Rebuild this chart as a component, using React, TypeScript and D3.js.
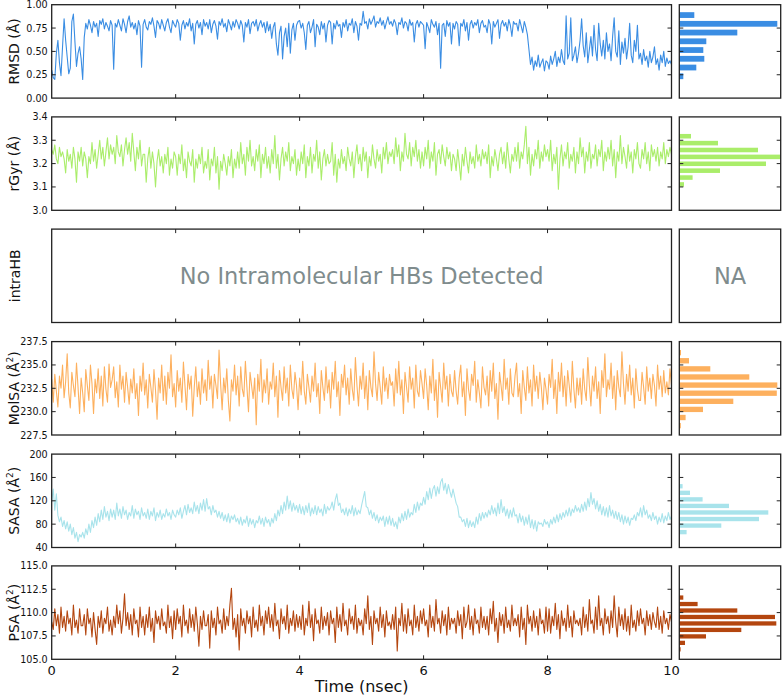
import React from 'react';
import * as d3 from 'd3';

// ---------- data (one row = 0.5 nsec, step 0.025 nsec) ----------
const timeTicks = [0, 2, 4, 6, 8, 10];

const rmsd = [
  0.30, 0.22, 0.20, 0.48, 0.62, 0.38, 0.24, 0.55, 0.85, 0.62, 0.44, 0.26, 0.32, 0.82, 0.90, 0.60, 0.34, 0.48, 0.55, 0.42,
  0.20, 0.65, 0.80, 0.74, 0.84, 0.78, 0.70, 0.82, 0.76, 0.80, 0.66, 0.83, 0.79, 0.85, 0.74, 0.81, 0.77, 0.72, 0.83, 0.78,
  0.31, 0.80, 0.76, 0.84, 0.78, 0.72, 0.85, 0.79, 0.70, 0.82, 0.88, 0.76, 0.81, 0.74, 0.80, 0.68, 0.83, 0.77, 0.33, 0.79,
  0.84, 0.76, 0.73, 0.82, 0.79, 0.86, 0.77, 0.65, 0.83, 0.80, 0.74, 0.84, 0.78, 0.72, 0.81, 0.85, 0.76, 0.70, 0.83, 0.79,
  0.76, 0.84, 0.80, 0.62, 0.78, 0.83, 0.74, 0.81, 0.77, 0.85, 0.72, 0.80, 0.58, 0.79, 0.83, 0.75, 0.81, 0.68, 0.84, 0.77,
  0.81, 0.74, 0.84, 0.70, 0.79, 0.83, 0.77, 0.63, 0.82, 0.78, 0.85, 0.76, 0.80, 0.71, 0.84, 0.79, 0.73, 0.82, 0.76, 0.84,
  0.80, 0.74, 0.83, 0.78, 0.60, 0.81, 0.76, 0.84, 0.69, 0.80, 0.82, 0.77, 0.84, 0.72, 0.79, 0.83, 0.76, 0.81, 0.70, 0.82,
  0.72, 0.79, 0.64, 0.76, 0.81, 0.58, 0.46, 0.70, 0.77, 0.42, 0.66, 0.75, 0.55, 0.80, 0.48, 0.73, 0.80, 0.62, 0.78, 0.82,
  0.83, 0.75, 0.80, 0.70, 0.52, 0.78, 0.82, 0.70, 0.76, 0.84, 0.55, 0.79, 0.76, 0.68, 0.82, 0.74, 0.80, 0.60, 0.78, 0.83,
  0.81, 0.58, 0.80, 0.74, 0.83, 0.77, 0.79, 0.65, 0.81, 0.76, 0.84, 0.72, 0.80, 0.78, 0.85, 0.70, 0.82, 0.77, 0.62, 0.80,
  0.78, 0.93, 0.80, 0.82, 0.74, 0.85, 0.79, 0.83, 0.88, 0.76, 0.82, 0.80, 0.86, 0.78, 0.83, 0.74, 0.81, 0.87, 0.79, 0.82,
  0.77, 0.84, 0.80, 0.68, 0.81, 0.79, 0.86, 0.75, 0.82, 0.80, 0.72, 0.84, 0.78, 0.81, 0.60, 0.79, 0.83, 0.76, 0.82, 0.80,
  0.78, 0.53, 0.81, 0.76, 0.70, 0.84, 0.79, 0.76, 0.82, 0.68, 0.80, 0.32, 0.78, 0.80, 0.66, 0.83, 0.77, 0.81, 0.58, 0.80,
  0.74, 0.82, 0.79, 0.56, 0.80, 0.77, 0.84, 0.72, 0.81, 0.62, 0.79, 0.83, 0.75, 0.81, 0.78, 0.84, 0.70, 0.80, 0.83, 0.76,
  0.78, 0.70, 0.84, 0.79, 0.58, 0.82, 0.76, 0.80, 0.84, 0.64, 0.79, 0.83, 0.77, 0.81, 0.72, 0.84, 0.78, 0.66, 0.82, 0.79,
  0.80, 0.72, 0.84, 0.77, 0.70, 0.82, 0.76, 0.68, 0.52, 0.36, 0.44, 0.30, 0.40, 0.34, 0.46, 0.33, 0.38, 0.42, 0.29, 0.40,
  0.38, 0.31, 0.45, 0.36, 0.42, 0.50, 0.34, 0.44, 0.38, 0.52, 0.40, 0.36, 0.88, 0.42, 0.48, 0.86, 0.40, 0.46, 0.55, 0.38,
  0.48, 0.62, 0.85, 0.56, 0.44, 0.70, 0.38, 0.52, 0.66, 0.45, 0.78, 0.52, 0.40, 0.80, 0.58, 0.45, 0.62, 0.42, 0.70, 0.50,
  0.58, 0.40, 0.66, 0.86, 0.50, 0.44, 0.72, 0.36, 0.60, 0.48, 0.64, 0.42, 0.55, 0.80, 0.46, 0.38, 0.62, 0.50, 0.78, 0.42,
  0.48, 0.36, 0.52, 0.40, 0.45, 0.33, 0.50, 0.38, 0.44, 0.55, 0.36, 0.42, 0.30, 0.46, 0.38, 0.50, 0.34, 0.43, 0.37, 0.40,
  0.36,
];

const rgyr = [
  3.26, 3.24, 3.28, 3.22, 3.20, 3.27, 3.23, 3.25, 3.22, 3.16, 3.26, 3.21, 3.24, 3.18, 3.27, 3.22, 3.12, 3.25, 3.21, 3.27,
  3.19, 3.25, 3.22, 3.14, 3.23, 3.20, 3.29, 3.21, 3.26, 3.18, 3.24, 3.30, 3.22, 3.27, 3.19, 3.25, 3.31, 3.22, 3.28, 3.24,
  3.27, 3.20, 3.32, 3.25, 3.23, 3.28, 3.19, 3.26, 3.31, 3.24, 3.29, 3.21, 3.33, 3.25, 3.17, 3.27, 3.22, 3.30, 3.19, 3.24,
  3.24, 3.12, 3.22, 3.27, 3.18, 3.25, 3.20, 3.10, 3.21, 3.26, 3.19, 3.23, 3.16, 3.24, 3.20, 3.27, 3.15, 3.22, 3.18, 3.25,
  3.23, 3.15, 3.24, 3.20, 3.28, 3.17, 3.22, 3.14, 3.25, 3.21, 3.19, 3.26, 3.12, 3.22, 3.18, 3.24, 3.20, 3.27, 3.16, 3.21,
  3.18, 3.26, 3.13, 3.22, 3.19, 3.27, 3.16, 3.23, 3.09, 3.21, 3.17, 3.24, 3.20, 3.15, 3.23, 3.19, 3.26, 3.14, 3.22, 3.18,
  3.25, 3.18, 3.29, 3.20, 3.24, 3.15, 3.27, 3.21, 3.30, 3.19, 3.23, 3.17, 3.26, 3.21, 3.28, 3.14, 3.24, 3.20, 3.27, 3.18,
  3.23, 3.16, 3.26, 3.20, 3.32, 3.18, 3.24, 3.13, 3.22, 3.27, 3.19, 3.25, 3.21, 3.29, 3.17, 3.23, 3.20, 3.26, 3.15, 3.22,
  3.17, 3.25, 3.20, 3.28, 3.14, 3.23, 3.19, 3.27, 3.16, 3.24, 3.21, 3.30, 3.18, 3.25, 3.13, 3.22, 3.26, 3.19, 3.24, 3.20,
  3.21, 3.29, 3.15, 3.24, 3.12, 3.22, 3.18, 3.26, 3.20, 3.23, 3.17, 3.27, 3.22, 3.19, 3.25, 3.14, 3.23, 3.28, 3.20, 3.24,
  3.17, 3.27, 3.21, 3.25, 3.14, 3.23, 3.19, 3.28, 3.22, 3.18, 3.26, 3.21, 3.24, 3.16, 3.27, 3.22, 3.29, 3.20, 3.25, 3.23,
  3.26, 3.20, 3.31, 3.23, 3.28, 3.17, 3.25, 3.21, 3.33, 3.24, 3.22, 3.29, 3.19, 3.27, 3.23, 3.30, 3.21, 3.26, 3.18, 3.25,
  3.19, 3.27, 3.22, 3.30, 3.18, 3.25, 3.21, 3.29, 3.15, 3.24, 3.26, 3.20, 3.28, 3.23, 3.19, 3.27, 3.22, 3.25, 3.17, 3.24,
  3.22, 3.17, 3.26, 3.20, 3.13, 3.24, 3.19, 3.27, 3.21, 3.16, 3.25, 3.20, 3.23, 3.18, 3.28, 3.21, 3.24, 3.19, 3.26, 3.22,
  3.25, 3.20, 3.28, 3.14, 3.23, 3.19, 3.26, 3.22, 3.17, 3.24, 3.27, 3.20, 3.25, 3.18, 3.29, 3.22, 3.16, 3.24, 3.21, 3.27,
  3.21, 3.29, 3.18, 3.25, 3.22, 3.28, 3.36, 3.20, 3.27, 3.15, 3.24, 3.19, 3.26, 3.22, 3.30, 3.18, 3.25, 3.21, 3.28, 3.23,
  3.26, 3.21, 3.30, 3.17, 3.24, 3.20, 3.27, 3.09, 3.22, 3.28, 3.19, 3.25, 3.22, 3.29, 3.18, 3.24, 3.21, 3.27, 3.16, 3.25,
  3.20, 3.31, 3.23, 3.27, 3.16, 3.25, 3.21, 3.29, 3.18, 3.24, 3.22, 3.28, 3.19, 3.26, 3.23, 3.30, 3.17, 3.25, 3.21, 3.27,
  3.22, 3.30, 3.19, 3.26, 3.14, 3.25, 3.21, 3.32, 3.20, 3.27, 3.23, 3.18, 3.28, 3.21, 3.25, 3.16, 3.26, 3.22, 3.29, 3.20,
  3.18, 3.26, 3.22, 3.29, 3.20, 3.25, 3.17, 3.28, 3.23, 3.26, 3.21, 3.27, 3.19, 3.25, 3.22, 3.29, 3.20, 3.26, 3.23, 3.27,
  3.24,
];

const molsa = [
  233.5, 231.0, 234.0, 232.2, 230.5, 233.8, 232.5, 235.0, 231.5, 233.2, 236.2, 232.0, 230.4, 234.2, 232.8, 231.6, 235.2, 232.6, 229.8, 233.6,
  232.0, 230.0, 234.5, 232.8, 231.2, 235.0, 233.0, 229.8, 233.5, 232.0, 234.6, 231.4, 233.8, 230.6, 234.8, 232.4, 231.0, 235.1, 232.6, 233.4,
  234.8, 231.5, 233.2, 230.5, 235.0, 232.4, 233.8, 231.0, 234.2, 232.6, 230.8, 233.5, 232.0, 234.6, 231.4, 233.0, 229.6, 233.8, 232.2, 235.2,
  231.8, 233.4, 230.4, 234.0, 232.6, 231.0, 234.5, 232.3, 229.2, 233.6, 232.0, 235.0, 231.2, 233.8, 230.8, 234.2, 232.5, 236.1, 231.6, 233.0,
  230.5, 234.4, 232.2, 233.6, 231.0, 235.3, 232.8, 230.2, 234.0, 232.4, 233.8, 229.5, 232.6, 234.8, 231.6, 233.2, 230.8, 234.6, 232.0, 233.4,
  231.2, 235.5, 232.4, 233.8, 230.4, 234.0, 232.8, 231.4, 236.6, 233.0, 230.2, 233.6, 232.0, 234.6, 231.2, 229.0, 233.4, 232.2, 235.0, 231.8,
  233.8, 230.6, 234.8, 232.4, 231.6, 235.4, 232.6, 230.0, 234.2, 232.8, 231.4, 233.6, 228.6, 234.0, 232.2, 235.6, 231.0, 233.4, 232.0, 234.6,
  230.8, 233.2, 232.4, 235.2, 231.6, 233.8, 229.4, 234.4, 232.6, 231.2, 234.8, 232.0, 233.6, 230.6, 235.0, 232.4, 231.4, 234.2, 232.8, 230.2,
  233.6, 231.8, 235.4, 232.2, 230.8, 234.0, 232.6, 231.0, 233.8, 232.2, 235.2, 231.6, 233.0, 229.8, 234.4, 232.6, 231.2, 234.8, 232.0, 233.4,
  230.4, 234.2, 232.4, 235.4, 231.6, 233.2, 229.6, 234.0, 232.6, 235.0, 231.8, 233.6, 230.8, 234.6, 232.4, 231.2, 235.8, 232.8, 230.6, 233.8,
  232.4, 235.2, 231.4, 233.8, 230.2, 234.4, 232.6, 231.6, 236.4, 233.0, 231.2, 234.2, 232.6, 230.8, 234.8, 232.2, 233.6, 231.4, 234.0, 232.8,
  233.2, 230.6, 234.6, 232.0, 235.4, 231.8, 233.4, 229.8, 234.2, 232.6, 231.0, 234.8, 232.4, 233.6, 230.4, 235.0, 232.2, 231.6, 234.4, 233.0,
  231.4, 234.6, 232.8, 230.2, 233.8, 232.0, 235.6, 231.2, 233.4, 229.4, 234.2, 232.6, 231.0, 235.2, 232.4, 233.8, 230.6, 234.0, 232.2, 231.6,
  234.4, 232.2, 230.8, 233.6, 235.0, 231.6, 233.2, 229.6, 234.6, 232.4, 231.2, 234.0, 232.8, 235.4, 231.0, 233.4, 232.0, 230.4, 234.8, 232.6,
  231.8, 233.8, 230.6, 234.4, 232.2, 235.2, 231.4, 233.0, 229.2, 234.2, 232.8, 231.2, 235.6, 232.4, 233.6, 230.8, 234.6, 232.0, 231.6, 233.8,
  235.2, 231.6, 233.0, 229.8, 234.4, 232.6, 231.2, 234.8, 232.0, 233.4, 230.6, 235.0, 232.2, 233.8, 231.4, 234.2, 232.6, 230.2, 233.6, 232.4,
  230.8, 234.0, 232.6, 235.6, 231.4, 233.4, 229.8, 234.2, 232.2, 235.2, 231.6, 233.8, 230.6, 234.4, 232.8, 231.0, 235.4, 232.4, 230.4, 233.6,
  231.8, 233.6, 230.8, 234.6, 232.4, 231.2, 235.8, 232.8, 230.6, 233.8, 232.2, 234.8, 231.4, 233.2, 229.8, 234.4, 232.6, 236.2, 231.6, 233.4,
  232.4, 235.2, 231.4, 233.8, 230.2, 234.4, 232.6, 231.6, 236.4, 233.0, 230.8, 234.0, 232.2, 235.0, 231.8, 233.6, 230.4, 234.6, 232.4, 231.2,
  231.2, 234.2, 232.6, 230.8, 234.8, 232.2, 233.6, 231.4, 234.0, 232.8, 230.6, 235.0, 232.4, 233.8, 231.6, 234.4, 232.0, 233.2, 231.8, 234.6,
  232.8,
];

const sasa = [
  118, 140, 104, 132, 95, 84, 92, 76, 86, 72, 84, 68, 80, 62, 74, 56, 66, 50, 62, 58,
  66, 56, 72, 62, 80, 66, 86, 74, 92, 78, 98, 84, 104, 88, 110, 92, 102, 86, 106, 92,
  104, 88, 116, 94, 106, 90, 110, 96, 104, 88, 100, 94, 112, 90, 106, 96, 102, 88, 108, 94,
  100, 90, 106, 88, 102, 94, 108, 86, 100, 92, 104, 88, 98, 92, 106, 94, 100, 88, 104, 96,
  92, 104, 96, 108, 90, 102, 112, 96, 114, 100, 108, 98, 118, 102, 112, 98, 116, 104, 122, 102,
  124, 106, 110, 96, 112, 100, 104, 92, 102, 90, 100, 86, 96, 84, 98, 82, 94, 88, 96, 84,
  90, 80, 92, 78, 88, 82, 94, 76, 90, 80, 88, 74, 86, 82, 94, 80, 90, 76, 92, 82,
  88, 76, 90, 82, 98, 86, 104, 94, 112, 98, 118, 104, 128, 106, 120, 102, 116, 104, 112, 100,
  114, 98, 110, 96, 112, 100, 116, 94, 108, 98, 112, 96, 110, 100, 106, 94, 114, 98, 110, 104,
  108, 118, 104, 122, 132, 112, 116, 100, 106, 96, 108, 94, 106, 98, 112, 94, 108, 96, 104, 98,
  112, 124, 136, 110, 108, 96, 104, 90, 100, 86, 96, 82, 92, 86, 94, 76, 92, 80, 94, 78,
  90, 76, 84, 72, 92, 82, 98, 86, 102, 88, 106, 92, 100, 96, 114, 100, 118, 104, 116, 112,
  126, 114, 136, 122, 142, 124, 140, 146, 128, 144, 132, 152, 158, 138, 150, 132, 148, 136, 126, 140,
  128, 116, 110, 92, 92, 84, 88, 76, 90, 74, 86, 76, 84, 74, 92, 80, 98, 86, 100, 90,
  100, 92, 104, 96, 112, 98, 108, 94, 116, 98, 122, 100, 110, 94, 106, 90, 104, 92, 108, 94,
  96, 82, 98, 84, 94, 78, 92, 80, 96, 74, 88, 72, 86, 68, 84, 80, 82, 76, 88, 80,
  84, 74, 88, 80, 92, 82, 96, 84, 98, 88, 100, 92, 104, 94, 108, 94, 106, 100, 112, 102,
  108, 100, 114, 102, 118, 104, 124, 110, 134, 114, 124, 106, 120, 102, 114, 96, 110, 94, 108, 92,
  112, 94, 104, 90, 102, 88, 100, 84, 96, 80, 94, 82, 92, 78, 90, 88, 96, 86, 100, 94,
  108, 92, 112, 96, 104, 90, 96, 86, 100, 88, 94, 80, 92, 84, 98, 82, 94, 86, 100, 88,
  94,
];

const psa = [
  109.0, 108.2, 110.4, 108.6, 109.8, 107.8, 110.6, 108.4, 109.6, 108.0, 110.2, 108.8, 109.4, 107.6, 110.8, 108.4, 109.2, 107.8, 110.4, 108.6,
  108.6, 109.8, 107.6, 110.4, 108.8, 109.4, 107.4, 110.0, 108.2, 106.6, 109.6, 108.4, 110.2, 107.8, 109.4, 108.8, 110.6, 108.0, 109.2, 107.6,
  109.6, 108.4, 110.8, 108.8, 110.2, 107.8, 109.4, 112.0, 108.6, 110.0, 108.2, 109.8, 107.6, 110.4, 108.8, 109.2, 107.4, 110.6, 108.4, 109.6,
  107.6, 109.8, 108.4, 110.6, 108.0, 109.4, 106.8, 110.2, 108.8, 109.6, 108.2, 110.4, 108.6, 109.0, 107.8, 110.8, 108.4, 109.6, 107.2, 110.2,
  108.2, 110.4, 108.8, 109.6, 107.4, 110.8, 108.6, 109.2, 107.8, 110.4, 108.4, 109.8, 108.0, 110.6, 108.8, 106.4, 109.6, 108.2, 110.2, 108.6,
  108.6, 109.8, 106.2, 110.2, 108.4, 109.4, 107.6, 110.6, 108.8, 109.2, 107.8, 110.4, 108.2, 109.6, 108.6, 110.8, 112.6, 108.2, 109.4, 107.4,
  109.8, 106.0, 110.4, 108.6, 109.4, 107.8, 110.2, 108.8, 109.6, 107.4, 110.6, 108.4, 109.2, 108.0, 110.8, 108.6, 109.6, 107.6, 110.2, 108.8,
  110.6, 108.4, 109.8, 108.0, 111.0, 108.6, 109.2, 107.2, 110.4, 108.8, 109.6, 108.2, 110.8, 107.8, 109.4, 108.6, 110.2, 108.0, 109.8, 108.4,
  109.6, 108.2, 110.8, 107.6, 109.4, 108.6, 111.2, 108.4, 109.8, 107.0, 110.4, 108.8, 109.2, 107.8, 110.6, 108.2, 109.6, 108.6, 110.0, 107.6,
  110.2, 108.8, 109.4, 106.8, 110.6, 108.4, 109.8, 108.0, 111.0, 108.6, 109.2, 107.6, 110.4, 108.8, 109.6, 108.2, 110.8, 107.8, 109.4, 108.6,
  109.2, 107.6, 110.4, 108.8, 111.8, 108.2, 109.6, 106.6, 110.2, 108.8, 109.4, 108.0, 110.6, 108.4, 109.8, 107.4, 110.2, 108.6, 109.0, 108.2,
  109.8, 108.2, 110.6, 105.9, 109.4, 108.6, 111.0, 108.0, 109.8, 107.8, 110.4, 108.6, 109.2, 107.6, 110.8, 108.4, 109.6, 108.0, 110.2, 108.8,
  110.4, 108.6, 109.2, 107.4, 110.8, 108.4, 109.6, 108.0, 111.4, 108.8, 109.4, 107.8, 110.2, 108.6, 109.8, 107.6, 110.6, 108.2, 109.4, 108.8,
  109.4, 107.8, 110.2, 108.6, 109.8, 107.2, 110.6, 108.4, 109.0, 110.8, 108.2, 109.6, 107.6, 110.4, 108.8, 109.2, 107.8, 110.6, 108.4, 109.6,
  108.2, 109.6, 107.6, 110.4, 108.8, 111.2, 108.0, 109.4, 106.8, 110.0, 108.6, 109.8, 107.8, 110.6, 108.4, 109.2, 108.0, 110.8, 108.6, 109.4,
  108.6, 109.8, 107.4, 110.6, 108.2, 109.4, 106.6, 110.8, 108.8, 109.6, 108.0, 110.2, 108.4, 109.6, 107.6, 110.4, 108.8, 109.2, 107.8, 110.6,
  108.0, 110.4, 107.8, 109.6, 108.6, 111.0, 108.2, 109.8, 107.2, 110.2, 108.6, 109.4, 108.0, 110.8, 108.4, 109.6, 107.4, 110.2, 108.8, 109.2,
  108.6, 109.4, 107.6, 110.6, 108.4, 109.8, 108.0, 111.4, 108.8, 109.2, 107.8, 110.6, 108.2, 111.8, 108.6, 109.4, 107.6, 110.4, 108.8, 109.6,
  107.8, 110.2, 108.4, 111.8, 109.0, 107.4, 110.6, 108.6, 109.8, 108.2, 110.4, 108.0, 109.6, 107.6, 110.8, 108.4, 109.2, 108.0, 110.2, 108.6,
  110.4, 108.8, 109.4, 107.6, 110.2, 108.6, 109.8, 108.2, 110.0, 109.0, 108.4, 110.6, 108.2, 109.6, 107.8, 110.2, 108.8, 109.4, 108.2, 109.8,
  109.0,
];

// histogram bins: first bin start, bin width, relative counts (bottom to top)
const rmsdHistStart = 0.187, rmsdHistStep = 0.0936;
const rmsdHistCounts = [4, 17, 25, 24, 27, 58, 98, 15];
const rgyrHistStart = 3.096, rgyrHistStep = 0.0295;
const rgyrHistCounts = [4.7, 13.3, 40.7, 86.7, 101, 78.7, 38.7, 11.7];
const molsaHistStart = 228.07, molsaHistStep = 0.868;
const molsaHistCounts = [1.5, 6.3, 23.7, 54, 97.5, 98, 70, 31, 9.7, 1.7];
const sasaHistStart = 60.7, sasaHistStep = 11.23;
const sasaHistCounts = [7.3, 42, 79.7, 89, 49.7, 23.3, 10.7, 3.3];
const psaHistStart = 105.72, psaHistStep = 0.693;
const psaHistCounts = [1.3, 5.7, 26.7, 62, 97, 95.7, 58, 18.3, 4];
const histMax = 101.4;

const rmsdTicks = [0, 0.25, 0.5, 0.75, 1.0];
const rgyrTicks = [3.0, 3.1, 3.2, 3.3, 3.4];
const molsaTicks = [227.5, 230.0, 232.5, 235.0, 237.5];
const sasaTicks = [40, 80, 120, 160, 200];
const psaTicks = [105.0, 107.5, 110.0, 112.5, 115.0];

const labels = ['RMSD', 'rGyr', 'intraHB', 'MolSA', 'SASA', 'PSA'];
const colors = ['#3a8de3', '#aaed6a', '#fdb05e', '#a8e3eb', '#b4460f', '#000'];

// ---------- layout ----------
const W = 783, H = 697;
const mainX0 = 51.7, mainX1 = 671.5;
const histX0 = 679.3, histX1 = 780.7;
const panelTops = [4.7, 116.9, 229.1, 341.6, 454.1, 565.9];
const panelH = 93.4;
const FONT = 'DejaVu Sans, sans-serif';

type PanelDef = {
  label: string;
  unit: 'A' | 'A2' | 'none';
  color: string;
  series?: number[];
  ticks?: number[];
  fmt?: (v: number) => string;
  hist?: { start: number; step: number; counts: number[] };
};

const panels: PanelDef[] = [
  { label: labels[0], unit: 'A', color: colors[0], series: rmsd, ticks: rmsdTicks, fmt: d3.format('.2f'),
    hist: { start: rmsdHistStart, step: rmsdHistStep, counts: rmsdHistCounts } },
  { label: labels[1], unit: 'A', color: colors[1], series: rgyr, ticks: rgyrTicks, fmt: d3.format('.1f'),
    hist: { start: rgyrHistStart, step: rgyrHistStep, counts: rgyrHistCounts } },
  { label: labels[2], unit: 'none', color: colors[5] },
  { label: labels[3], unit: 'A2', color: colors[2], series: molsa, ticks: molsaTicks, fmt: d3.format('.1f'),
    hist: { start: molsaHistStart, step: molsaHistStep, counts: molsaHistCounts } },
  { label: labels[4], unit: 'A2', color: colors[3], series: sasa, ticks: sasaTicks, fmt: d3.format('d'),
    hist: { start: sasaHistStart, step: sasaHistStep, counts: sasaHistCounts } },
  { label: labels[5], unit: 'A2', color: colors[4], series: psa, ticks: psaTicks, fmt: d3.format('.1f'),
    hist: { start: psaHistStart, step: psaHistStep, counts: psaHistCounts } },
];

const TICK = 4;
const SPINE = '#222';

export default function App() {
  const x = d3.scaleLinear().domain([0, 10]).range([mainX0, mainX1]);
  const hx = d3.scaleLinear().domain([0, histMax]).range([histX0, histX1]);

  return (
    <svg width={W} height={H} style={{ position: 'absolute', left: 0, top: 0, background: '#fff' }}
      fontFamily={FONT}>
      <rect x={0} y={0} width={W} height={H} fill="#fff" />
      <defs>
        {panels.map((p, i) => (
          <clipPath id={`clip${i}`} key={i}>
            <rect x={mainX0} y={panelTops[i]} width={mainX1 - mainX0} height={panelH} />
          </clipPath>
        ))}
      </defs>
      {panels.map((p, i) => {
        const top = panelTops[i];
        const bottom = top + panelH;
        const ticks = p.ticks || [0, 1];
        const y = d3.scaleLinear().domain([ticks[0], ticks[ticks.length - 1]]).range([bottom, top]);
        const innerTicks = ticks.slice(1, -1);
        let path: string | null = null;
        if (p.series) {
          const n = p.series.length;
          const line = d3.line<number>().x((_, j) => x((j * 10) / (n - 1))).y((d) => y(d));
          path = line(p.series);
        }
        const cy = (top + bottom) / 2;
        return (
          <g key={i}>
            {path && (
              <path d={path} fill="none" stroke={p.color} strokeWidth={1.1} strokeLinejoin="round"
                clipPath={`url(#clip${i})`} />
            )}
            {p.hist && p.hist.counts.map((c, k) => {
              const center = p.hist!.start + (k + 0.5) * p.hist!.step;
              const half = p.hist!.step * 0.33;
              const y0 = y(center + half);
              const y1 = y(center - half);
              return (
                <rect key={k} x={hx(0)} y={y0} width={hx(c) - hx(0)} height={y1 - y0} fill={p.color} />
              );
            })}
            <rect x={mainX0} y={top} width={mainX1 - mainX0} height={panelH} fill="none" stroke={SPINE} strokeWidth={1.3} />
            <rect x={histX0} y={top} width={histX1 - histX0} height={panelH} fill="none" stroke={SPINE} strokeWidth={1.3} />
            {timeTicks.slice(1, -1).map((t) => (
              <g key={t}>
                <line x1={x(t)} x2={x(t)} y1={top} y2={top + TICK} stroke={SPINE} strokeWidth={1} />
                <line x1={x(t)} x2={x(t)} y1={bottom} y2={bottom - TICK} stroke={SPINE} strokeWidth={1} />
              </g>
            ))}
            {p.series && innerTicks.map((t) => (
              <g key={t}>
                <line x1={mainX0} x2={mainX0 + TICK} y1={y(t)} y2={y(t)} stroke={SPINE} strokeWidth={1} />
                <line x1={mainX1} x2={mainX1 - TICK} y1={y(t)} y2={y(t)} stroke={SPINE} strokeWidth={1} />
                <line x1={histX0} x2={histX0 + TICK} y1={y(t)} y2={y(t)} stroke={SPINE} strokeWidth={1} />
                <line x1={histX1} x2={histX1 - TICK} y1={y(t)} y2={y(t)} stroke={SPINE} strokeWidth={1} />
              </g>
            ))}
            {p.series && ticks.map((t) => (
              <text key={t} x={mainX0 - 4} y={y(t)} textAnchor="end" dominantBaseline="central"
                fontSize={9.6} fill="#111">
                {p.fmt!(t)}
              </text>
            ))}
            <text transform={`translate(${p.unit === 'none' ? 20 : 19},${cy}) rotate(-90)`} textAnchor="middle"
              fontSize={14} fill="#111">
              {p.unit === 'none' && p.label}
              {p.unit === 'A' && `${p.label} (Å)`}
              {p.unit === 'A2' && (
                <>
                  {`${p.label} (Å`}
                  <tspan dy={-6} fontSize={9}>2</tspan>
                  <tspan dy={6}>)</tspan>
                </>
              )}
            </text>
            {p.unit === 'none' && (
              <>
                <text x={x(5)} y={cy} textAnchor="middle" dominantBaseline="central" fontSize={22.5} fill="#7f8c8d">
                  No Intramolecular HBs Detected
                </text>
                <text x={(histX0 + histX1) / 2} y={cy} textAnchor="middle" dominantBaseline="central" fontSize={22.5} fill="#7f8c8d">
                  NA
                </text>
              </>
            )}
          </g>
        );
      })}
      {timeTicks.map((t) => (
        <text key={t} x={x(t)} y={675} textAnchor="middle" fontSize={13} fill="#111">{t}</text>
      ))}
      <text x={(mainX0 + mainX1) / 2} y={692} textAnchor="middle" fontSize={16} fill="#111">Time (nsec)</text>
    </svg>
  );
}
